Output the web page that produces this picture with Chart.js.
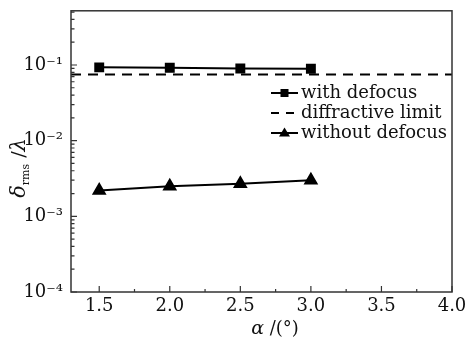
<!DOCTYPE html>
<html lang="en">
<head>
<meta charset="UTF-8">
<script src="https://cdn.jsdelivr.net/npm/chart.js@4.4.0/dist/chart.umd.min.js"></script>
<title>rms vs alpha</title>
<style>
    body { margin: 0; background: #fff; }
    #wrap { width: 467px; height: 339px; }
</style>
</head>
<body>
<div id="wrap"><canvas id="c"></canvas></div>
<script>
// data
var alphaVals = [1.5, 2.0, 2.5, 3.0];
var withDefocus = [0.093, 0.092, 0.090, 0.089];
var withoutDefocus = [0.0022, 0.0025, 0.0027, 0.0030];
var limitX = [1.3, 4.0];
var limitY = [0.075, 0.075];
var xTicks = [1.5, 2.0, 2.5, 3.0, 3.5, 4.0];
var xMinor = [1.75, 2.25, 2.75, 3.25, 3.75];
var yTicks = [1e-4, 1e-3, 1e-2, 1e-1];
var yTickLabels = ['10\u207B\u2074', '10\u207B\u00B3', '10\u207B\u00B2', '10\u207B\u00B9'];
var legendNames = ['with defocus', 'diffractive limit', 'without defocus'];

var serif = '"DejaVu Serif", serif';

function pts(xs, ys) {
    var out = [];
    for (var i = 0; i < xs.length; i++) out.push({x: xs[i], y: ys[i]});
    return out;
}

// frame, inward ticks, axis titles, legend
var decor = {
    id: 'decor',
    afterDraw: function(chart) {
        var ctx = chart.ctx;
        var a = chart.chartArea;
        var xs = chart.scales.x, ys = chart.scales.y;
        ctx.save();
        ctx.strokeStyle = '#333';
        ctx.lineWidth = 1.5;
        ctx.strokeRect(a.left, a.top, a.right - a.left, a.bottom - a.top);

        ctx.lineWidth = 1.2;
        ctx.beginPath();
        xTicks.forEach(function(v) {
            var p = xs.getPixelForValue(v);
            ctx.moveTo(p, a.bottom); ctx.lineTo(p, a.bottom - 6);
        });
        xMinor.forEach(function(v) {
            var p = xs.getPixelForValue(v);
            ctx.moveTo(p, a.bottom); ctx.lineTo(p, a.bottom - 3);
        });
        for (var e = -4; e <= 0; e++) {
            for (var m = 1; m <= 9; m++) {
                var v = m * Math.pow(10, e);
                if (v > ys.max) break;
                var p = ys.getPixelForValue(v);
                ctx.moveTo(a.left, p); ctx.lineTo(a.left + (m === 1 ? 6 : 3.5), p);
            }
        }
        ctx.stroke();

        // x title
        ctx.fillStyle = '#111';
        ctx.textBaseline = 'middle';
        var t1 = '\u03B1', t2 = ' /(\u00B0)';
        ctx.font = 'italic 19px ' + serif;
        var w1 = ctx.measureText(t1).width;
        ctx.font = '18px ' + serif;
        var w2 = ctx.measureText(t2).width;
        var sx = 275 - (w1 + w2) / 2;
        ctx.font = 'italic 19px ' + serif;
        ctx.textAlign = 'left';
        ctx.fillText(t1, sx, 329);
        ctx.font = '18px ' + serif;
        ctx.fillText(t2, sx + w1, 329);

        // y title, rotated
        ctx.save();
        ctx.translate(20, 168);
        ctx.rotate(-Math.PI / 2);
        var parts = [
            {t: '\u03B4', f: 'italic 21px ' + serif, dy: 0},
            {t: 'rms', f: '11px ' + serif, dy: 6},
            {t: ' /', f: '19px ' + serif, dy: 0},
            {t: '\u03BB', f: 'italic 21px ' + serif, dy: 0}
        ];
        var tw = 0;
        parts.forEach(function(p) { ctx.font = p.f; p.w = ctx.measureText(p.t).width; tw += p.w; });
        var px = -tw / 2;
        parts.forEach(function(p) {
            ctx.font = p.f;
            ctx.fillText(p.t, px, p.dy);
            px += p.w;
        });
        ctx.restore();

        // legend
        var lx0 = 271, lx1 = 298, tx = 301;
        var ly = [93, 113, 133];
        ctx.font = '18px ' + serif;
        ctx.fillStyle = '#111';
        ctx.strokeStyle = '#000';
        ctx.lineWidth = 2;
        for (var i = 0; i < 3; i++) {
            ctx.beginPath();
            if (i === 1) {
                ctx.moveTo(lx0, ly[i]); ctx.lineTo(lx0 + 8, ly[i]);
                ctx.moveTo(lx0 + 15, ly[i]); ctx.lineTo(lx0 + 23, ly[i]);
            } else {
                ctx.moveTo(lx0, ly[i]); ctx.lineTo(lx1, ly[i]);
            }
            ctx.stroke();
            ctx.fillStyle = '#000';
            var cx = (lx0 + lx1) / 2;
            if (i === 0) {
                ctx.fillRect(cx - 4, ly[i] - 4, 8, 8);
            } else if (i === 2) {
                ctx.beginPath();
                ctx.moveTo(cx, ly[i] - 5.5);
                ctx.lineTo(cx + 5.5, ly[i] + 3.5);
                ctx.lineTo(cx - 5.5, ly[i] + 3.5);
                ctx.closePath();
                ctx.fill();
            }
            ctx.fillStyle = '#111';
            ctx.fillText(legendNames[i], tx, ly[i]);
        }
        ctx.restore();
    }
};

new Chart(document.getElementById('c'), {
    type: 'scatter',
    data: {
        datasets: [
        {
            label: legendNames[0],
            data: pts(alphaVals, withDefocus),
            showLine: true,
            borderColor: '#000',
            backgroundColor: '#000',
            borderWidth: 2,
            pointStyle: 'rect',
            pointRadius: 5.6
        },
        {
            label: legendNames[1],
            data: pts(limitX, limitY),
            showLine: true,
            borderColor: '#000',
            borderWidth: 2,
            borderDash: [10, 7],
            pointRadius: 0
        },
        {
            label: legendNames[2],
            data: pts(alphaVals, withoutDefocus),
            showLine: true,
            borderColor: '#000',
            backgroundColor: '#000',
            borderWidth: 2,
            pointStyle: 'triangle',
            pointRadius: 6.5
        }]
    },
    options: {
        responsive: true,
        maintainAspectRatio: false,
        animation: false,
        layout: {padding: {top: 8, right: 15, left: 0, bottom: 0}},
        plugins: {legend: {display: false}, tooltip: {enabled: false}},
        scales: {
            x: {
                type: 'linear',
                min: 1.3,
                max: 4.0,
                grid: {display: false},
                border: {display: false},
                afterBuildTicks: function(s) { s.ticks = xTicks.map(function(v) { return {value: v}; }); },
                afterFit: function(s) { s.height = 47; },
                ticks: {
                    color: '#111',
                    padding: -4,
                    maxRotation: 0,
                    font: {family: serif, size: 18},
                    callback: function(v) { return v.toFixed(1); }
                }
            },
            y: {
                type: 'logarithmic',
                min: 1e-4,
                max: 0.52,
                grid: {display: false},
                border: {display: false},
                afterBuildTicks: function(s) { s.ticks = yTicks.map(function(v) { return {value: v}; }); },
                afterFit: function(s) { s.width = 71; },
                ticks: {
                    color: '#111',
                    padding: 0,
                    font: {family: serif, size: 18},
                    callback: function(v) {
                        var i = yTicks.indexOf(v);
                        return i >= 0 ? yTickLabels[i] : '';
                    }
                }
            }
        }
    },
    plugins: [decor]
});
</script>
</body>
</html>
